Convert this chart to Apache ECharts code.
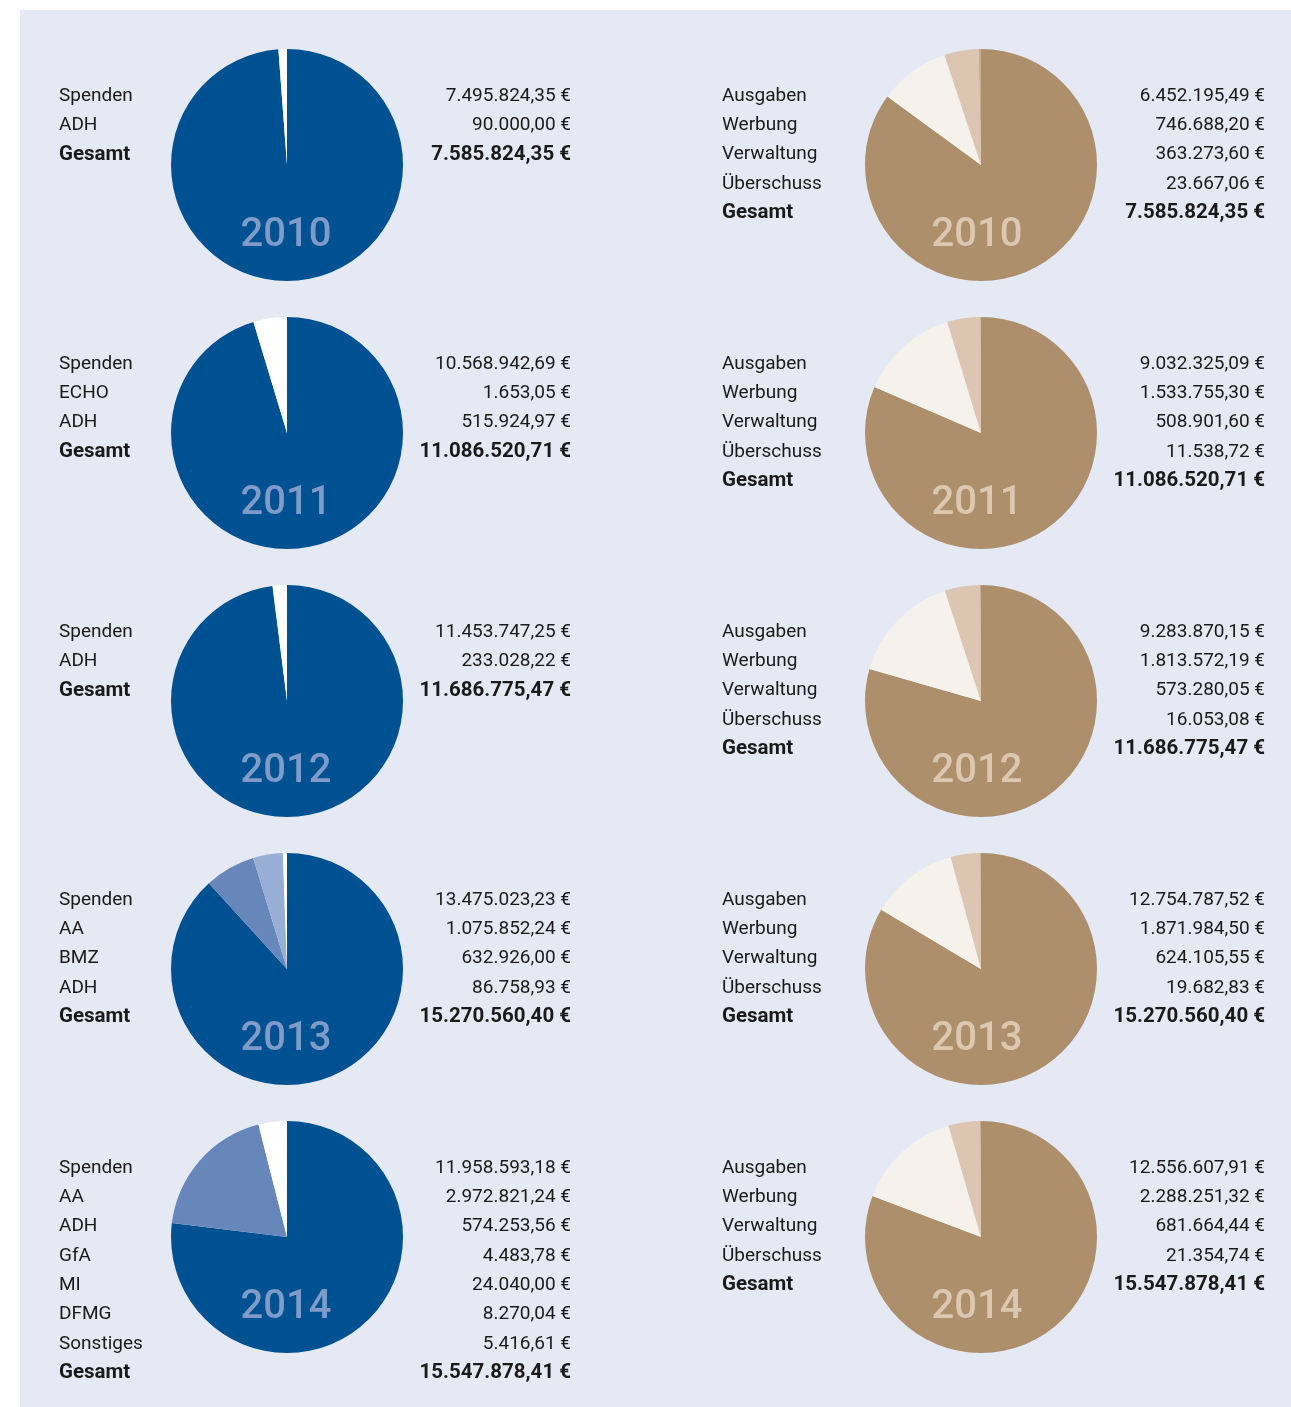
<!DOCTYPE html>
<html>
<head>
<meta charset="utf-8">
<script src="https://cdn.jsdelivr.net/npm/echarts@6/dist/echarts.min.js"></script>
<style>
  html, body { margin: 0; padding: 0; background: #fff; }
  #main { width: 1291px; height: 1407px; }
</style>
</head>
<body>
<div id="main"></div>
<script>
// Jahre
const jahre = ['2010', '2011', '2012', '2013', '2014']

// Einnahmen (links)
const einnahmenNamen = [
  ['Spenden', 'ADH'],
  ['Spenden', 'ECHO', 'ADH'],
  ['Spenden', 'ADH'],
  ['Spenden', 'AA', 'BMZ', 'ADH'],
  ['Spenden', 'AA', 'ADH', 'GfA', 'MI', 'DFMG', 'Sonstiges']
]
const einnahmenWerte = [
  [7495824.35, 90000.00],
  [10568942.69, 1653.05, 515924.97],
  [11453747.25, 233028.22],
  [13475023.23, 1075852.24, 632926.00, 86758.93],
  [11958593.18, 2972821.24, 574253.56, 4483.78, 24040.00, 8270.04, 5416.61]
]

// Mittelverwendung (rechts)
const ausgabenNamen = ['Ausgaben', 'Werbung', 'Verwaltung', 'Überschuss']
const ausgabenWerte = [
  [6452195.49, 746688.20, 363273.60, 23667.06],
  [9032325.09, 1533755.30, 508901.60, 11538.72],
  [9283870.15, 1813572.19, 573280.05, 16053.08],
  [12754787.52, 1871984.50, 624105.55, 19682.83],
  [12556607.91, 2288251.32, 681664.44, 21354.74]
]

// Farben
let blauFarben = {
  Spenden: '#005191',
  AA: '#6787bb',
  BMZ: '#99aed5',
  ADH: '#ffffff',
  ECHO: '#ffffff',
  GfA: '#ffffff',
  MI: '#ffffff',
  DFMG: '#ffffff',
  Sonstiges: '#ffffff'
}
let braunFarben = {
  Ausgaben: '#ad8f6b',
  Werbung: '#f5f1eb',
  Verwaltung: '#dcc6b1',
  'Überschuss': '#c7ad90'
}

const FONT = 'Roboto, "Noto Sans", sans-serif'
const rowH = 268      // Abstand der Zeilen
const lineH = 29.3    // Zeilenabstand Text
const radius = 116

function euro(v) {
  let cents = Math.round(v * 100)
  let euros = Math.floor(cents / 100)
  let rest = String(cents % 100).padStart(2, '0')
  let s = String(euros).replace(/\B(?=(\d{3})+(?!\d))/g, '.')
  return s + ',' + rest + ' €'
}
function summe(arr) {
  return arr.reduce((a, b) => a + b, 0)
}

let chart = echarts.init(document.getElementById('main'))

let series = []
let graphic = [{
  type: 'rect',
  shape: { x: 20, y: 10, width: 1271, height: 1397 },
  style: { fill: '#e5e9f4' },
  z: -10
}]

function textEl(x, y, text, align, bold) {
  return {
    type: 'text',
    x: x,
    y: y,
    style: {
      text: text,
      align: align,
      verticalAlign: 'middle',
      fill: '#1a1a1a',
      font: bold ? 'bold 20.5px ' + FONT : '19px ' + FONT
    },
    z: 10
  }
}

jahre.forEach((jahr, i) => {
  let cy = 165 + i * rowH
  let ty = 96 + i * rowH

  // linke Torte
  series.push({
    type: 'pie',
    center: [287, cy],
    radius: [0, radius],
    startAngle: 90,
    clockwise: true,
    silent: true,
    label: { show: false },
    labelLine: { show: false },
    itemStyle: { borderWidth: 0 },
    data: einnahmenNamen[i].map((n, k) => ({
      name: n,
      value: einnahmenWerte[i][k],
      itemStyle: { color: blauFarben[n] }
    }))
  })
  // rechte Torte
  series.push({
    type: 'pie',
    center: [981, cy],
    radius: [0, radius],
    startAngle: 90,
    clockwise: true,
    silent: true,
    label: { show: false },
    labelLine: { show: false },
    itemStyle: { borderWidth: 0 },
    data: ausgabenNamen.map((n, k) => ({
      name: n,
      value: ausgabenWerte[i][k],
      itemStyle: { color: braunFarben[n] }
    }))
  })

  // Jahreszahlen
  graphic.push({
    type: 'text', x: 286, y: cy + 71,
    style: { text: jahr, align: 'center', verticalAlign: 'middle', fill: '#7e9bca', font: '500 40px ' + FONT },
    z: 20
  })
  graphic.push({
    type: 'text', x: 977, y: cy + 71,
    style: { text: jahr, align: 'center', verticalAlign: 'middle', fill: '#dcc8b1', font: '500 40px ' + FONT },
    z: 20
  })

  // Texte links
  einnahmenNamen[i].forEach((n, k) => {
    graphic.push(textEl(59, ty + k * lineH, n, 'left', false))
    graphic.push(textEl(571, ty + k * lineH, euro(einnahmenWerte[i][k]), 'right', false))
  })
  let kL = einnahmenNamen[i].length
  graphic.push(textEl(59, ty + kL * lineH, 'Gesamt', 'left', true))
  graphic.push(textEl(571, ty + kL * lineH, euro(summe(einnahmenWerte[i])), 'right', true))

  // Texte rechts
  ausgabenNamen.forEach((n, k) => {
    graphic.push(textEl(722, ty + k * lineH, n, 'left', false))
    graphic.push(textEl(1265, ty + k * lineH, euro(ausgabenWerte[i][k]), 'right', false))
  })
  let kR = ausgabenNamen.length
  graphic.push(textEl(722, ty + kR * lineH, 'Gesamt', 'left', true))
  graphic.push(textEl(1265, ty + kR * lineH, euro(summe(ausgabenWerte[i])), 'right', true))
})

chart.setOption({
  animation: false,
  backgroundColor: '#ffffff',
  graphic: graphic,
  series: series
})
</script>
</body>
</html>
